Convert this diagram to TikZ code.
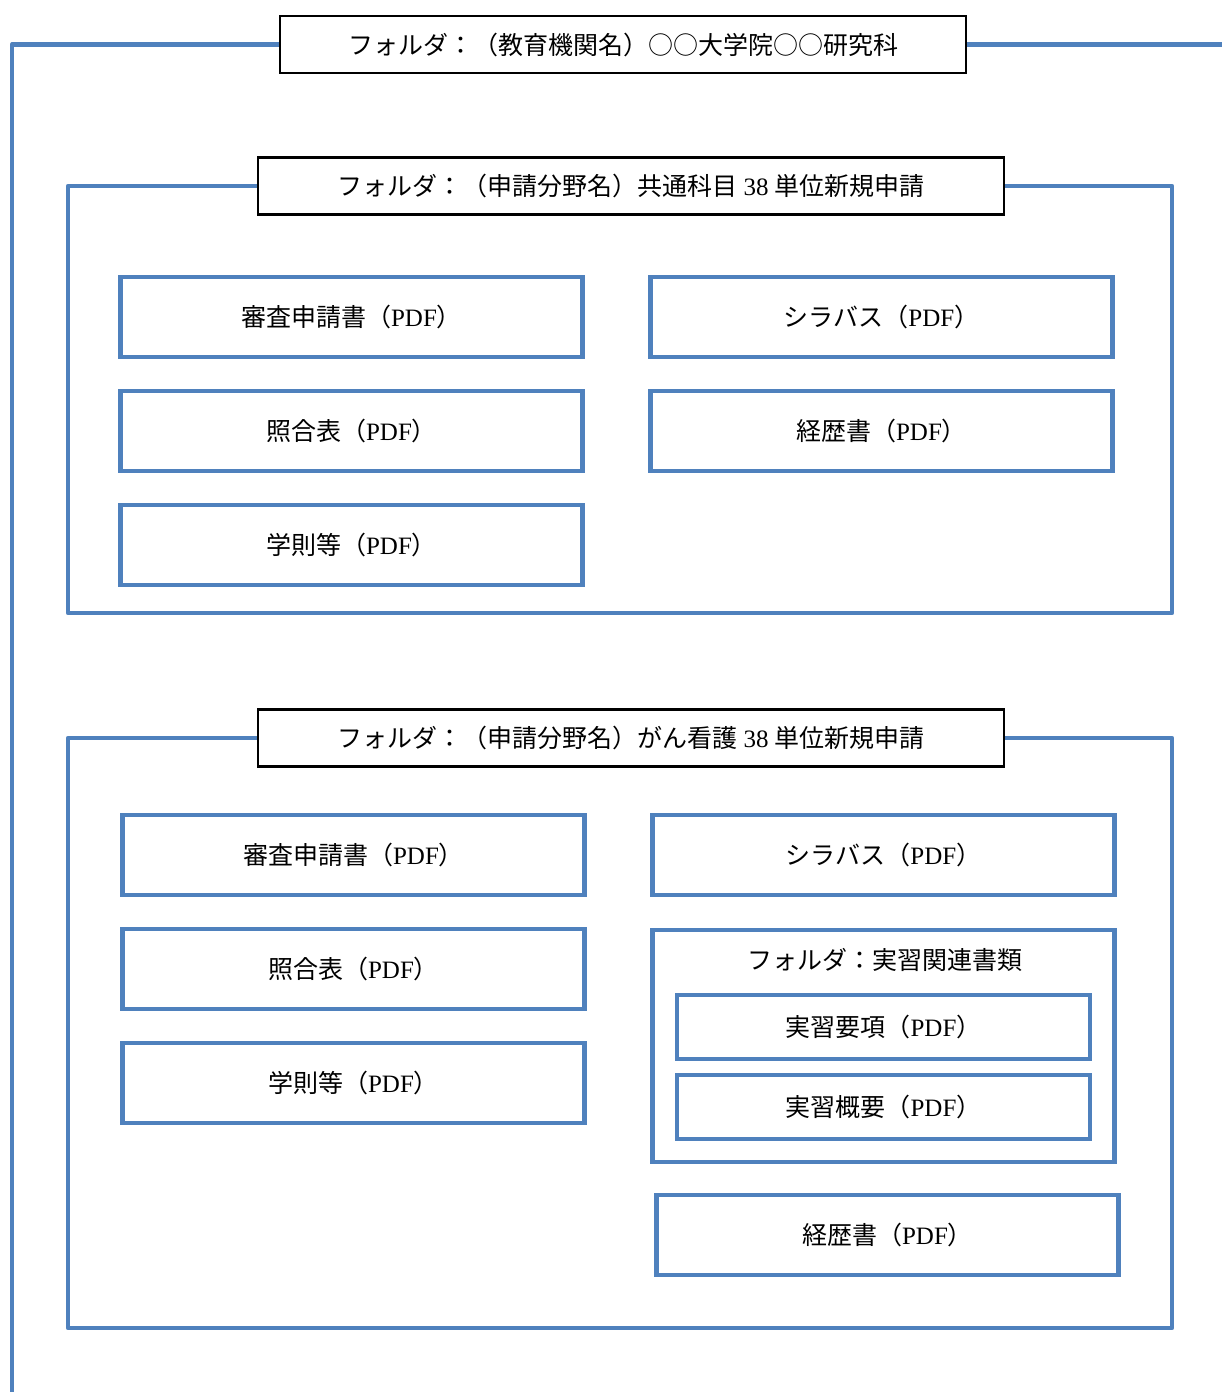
\documentclass[tikz,border=0pt]{standalone}
\usepackage{fontspec}
\setmainfont{Noto Sans CJK JP}
\newfontfamily\latinfont{Liberation Serif}
\usetikzlibrary{positioning}
\definecolor{frameblue}{RGB}{79,129,189}
\newcommand{\pdftag}{（{\latinfont PDF}）}

\begin{document}
\begin{tikzpicture}[x=1pt, y=-1pt,
    folderline/.style={draw=frameblue, line width=4.8pt, line join=round},
    label/.style={draw=black, line width=2.2pt, fill=white, font=\fontsize{25}{28}\selectfont,
        minimum height=57pt, inner sep=0pt},
    filebox/.style={draw=frameblue, line width=4.8pt, minimum width=462pt, minimum height=80pt,
        font=\fontsize{25}{28}\selectfont, inner sep=0pt},
    subbox/.style={filebox, minimum width=413pt, minimum height=64pt}]
    \useasboundingbox (0,0) rectangle (1222,1392);

    % Top folder
    \node[label, minimum width=686pt] (top) at (623,44.5) {フォルダ：（教育機関名）○○大学院○○研究科};
    \coordinate (topend) at (1222,44.5);
    \coordinate (topdown) at (12,1392);
    \draw[folderline] (top.west) -| (topdown);
    \draw[folderline] (top.east) -- (topend);

    % Folder 1
    \node[label, minimum width=746pt] (f1) at (631,186) {フォルダ：（申請分野名）共通科目 {\latinfont 38} 単位新規申請};
    \coordinate (f1bl) at (68,613);
    \coordinate (f1tr) at (1172,186);
    \draw[folderline] (f1.west) -| (f1bl) -| (f1tr) -- (f1.east);

    \node[filebox] (a1) at (351.5,317) {審査申請書\pdftag};
    \node[filebox] (a2) at (351.5,431) {照合表\pdftag};
    \node[filebox] (a3) at (351.5,545) {学則等\pdftag};
    \node[filebox] (a4) at (881.5,317) {シラバス\pdftag};
    \node[filebox] (a5) at (881.5,431) {経歴書\pdftag};

    % Folder 2
    \node[label, minimum width=746pt] (f2) at (631,738) {フォルダ：（申請分野名）がん看護 {\latinfont 38} 単位新規申請};
    \coordinate (f2bl) at (68,1328);
    \coordinate (f2tr) at (1172,738);
    \draw[folderline] (f2.west) -| (f2bl) -| (f2tr) -- (f2.east);

    \node[filebox] (b1) at (353.5,855) {審査申請書\pdftag};
    \node[filebox] (b2) at (353.5,969) {照合表\pdftag};
    \node[filebox] (b3) at (353.5,1083) {学則等\pdftag};
    \node[filebox] (b4) at (883.5,855) {シラバス\pdftag};

    % Subfolder
    \node[filebox, minimum height=232pt] (sub) at (883.5,1046) {};
    \node[font=\fontsize{25}{28}\selectfont, inner sep=0pt] (subtitle) at (885,960) {フォルダ：実習関連書類};
    \node[subbox] (c1) at (883.5,1027) {実習要項\pdftag};
    \node[subbox] (c2) at (883.5,1107) {実習概要\pdftag};

    \node[filebox] (b5) at (887.5,1235) {経歴書\pdftag};
\end{tikzpicture}
\end{document}
